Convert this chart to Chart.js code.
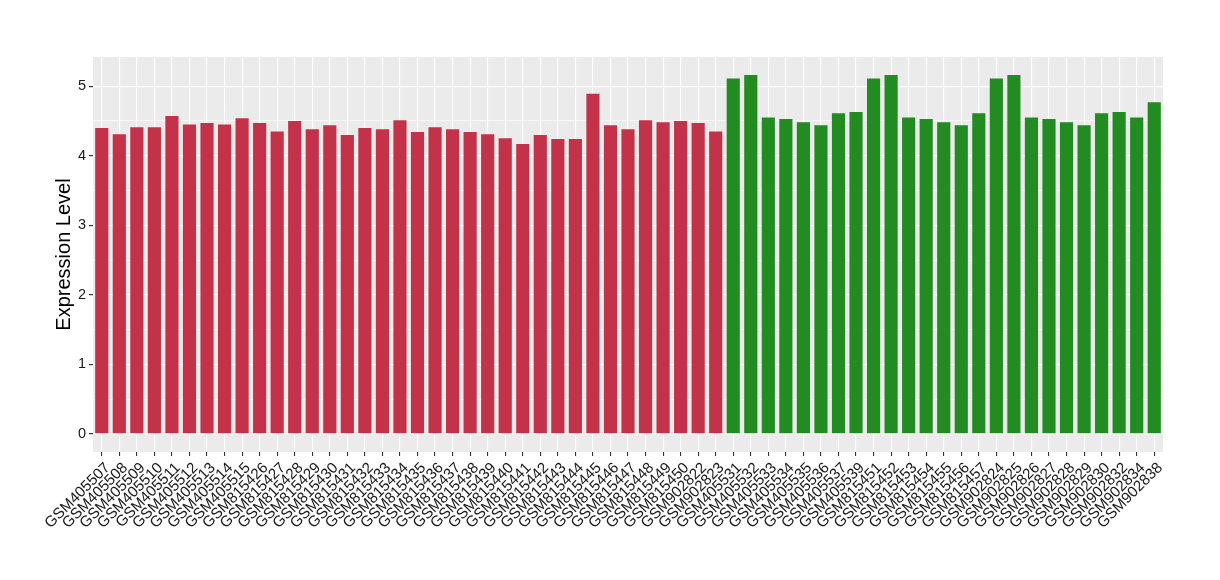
<!DOCTYPE html>
<html>
<head>
<meta charset="utf-8">
<script src="https://cdn.jsdelivr.net/npm/chart.js@4/dist/chart.umd.min.js"></script>
<style>
html,body{margin:0;padding:0;background:#fff;}
#wrap{width:1220px;height:580px;position:relative;}
</style>
</head>
<body>
<div id="wrap"><canvas id="c" width="1220" height="580"></canvas></div>
<script>
const categories = [
  "GSM405507","GSM405508","GSM405509","GSM405510","GSM405511","GSM405512","GSM405513","GSM405514","GSM405515",
  "GSM815426","GSM815427","GSM815428","GSM815429","GSM815430","GSM815431","GSM815432","GSM815433","GSM815434",
  "GSM815435","GSM815436","GSM815437","GSM815438","GSM815439","GSM815440","GSM815441","GSM815442","GSM815443",
  "GSM815444","GSM815445","GSM815446","GSM815447","GSM815448","GSM815449","GSM815450","GSM902822","GSM902823",
  "GSM405531","GSM405532","GSM405533","GSM405534","GSM405535","GSM405536","GSM405537","GSM405539",
  "GSM815451","GSM815452","GSM815453","GSM815454","GSM815455","GSM815456","GSM815457",
  "GSM902824","GSM902825","GSM902826","GSM902827","GSM902828","GSM902829","GSM902830","GSM902832","GSM902834","GSM902838"
];
const values = [
  4.40,4.31,4.41,4.41,4.57,4.45,4.47,4.45,4.54,
  4.47,4.35,4.50,4.38,4.44,4.30,4.40,4.38,4.51,
  4.34,4.41,4.38,4.34,4.31,4.25,4.17,4.30,4.24,
  4.24,4.89,4.44,4.38,4.51,4.48,4.50,4.47,4.35,
  5.11,5.16,4.55,4.53,4.48,4.44,4.61,4.63,
  5.11,5.16,4.55,4.53,4.48,4.44,4.61,
  5.11,5.16,4.55,4.53,4.48,4.44,4.61,4.63,4.55,4.77
];
const groups = [
  "a","a","a","a","a","a","a","a","a","a","a","a","a","a","a","a","a","a",
  "a","a","a","a","a","a","a","a","a","a","a","a","a","a","a","a","a","a",
  "b","b","b","b","b","b","b","b","b","b","b","b","b","b","b",
  "b","b","b","b","b","b","b","b","b","b"
];
const groupColors = {a:"#C33249", b:"#228B22"};
const yTicks = [0,0.5,1,1.5,2,2.5,3,3.5,4,4.5,5];
const yTitle = "Expression Level";

const FONT = "'Liberation Sans', Arial, Helvetica, sans-serif";

const panelBg = {
  id:'panelBg',
  beforeDraw(chart){
    const {ctx, chartArea:a} = chart;
    ctx.save();
    ctx.fillStyle = '#EBEBEB';
    ctx.fillRect(a.left, a.top, a.right-a.left, a.bottom-a.top);
    ctx.restore();
  }
};

new Chart(document.getElementById('c'), {
  type:'bar',
  data:{
    labels:categories,
    datasets:[{
      data:values,
      backgroundColor:groups.map(g=>groupColors[g]),
      borderWidth:0,
      barPercentage:0.75,
      categoryPercentage:1.0
    }]
  },
  plugins:[panelBg],
  options:{
    responsive:false,
    animation:false,
    devicePixelRatio:1,
    layout:{padding:{top:57,right:57,left:0,bottom:0}},
    plugins:{legend:{display:false},tooltip:{enabled:false}},
    scales:{
      x:{
        offset:true,
        grid:{offset:false,color:'#FFFFFF',lineWidth:1.1,drawTicks:true,tickLength:4,tickColor:'#333333'},
        border:{display:false},
        ticks:{
          autoSkip:false,minRotation:45,maxRotation:45,labelOffset:6,
          font:{family:FONT,size:15.2},color:'#1A1A1A',padding:3
        },
        afterFit(s){s.height=128;}
      },
      y:{
        min:-0.26,max:5.42,
        afterBuildTicks(s){s.ticks=yTicks.map(v=>({value:v}));},
        grid:{
          color:'#FFFFFF',
          lineWidth:c=>(c.tick && Number.isInteger(c.tick.value))?1.2:0.6,
          tickColor:c=>(c.tick && Number.isInteger(c.tick.value))?'#333333':'rgba(0,0,0,0)',
          tickLength:4
        },
        border:{display:false},
        ticks:{
          callback:v=>Number.isInteger(v)?String(v):'',
          font:{family:FONT,size:14.5},color:'#1A1A1A',padding:3
        },
        title:{display:true,text:yTitle,font:{family:FONT,size:20},color:'#000',padding:{top:52,bottom:0}},
        afterFit(s){s.width=93;}
      }
    }
  }
});
</script>
</body>
</html>
